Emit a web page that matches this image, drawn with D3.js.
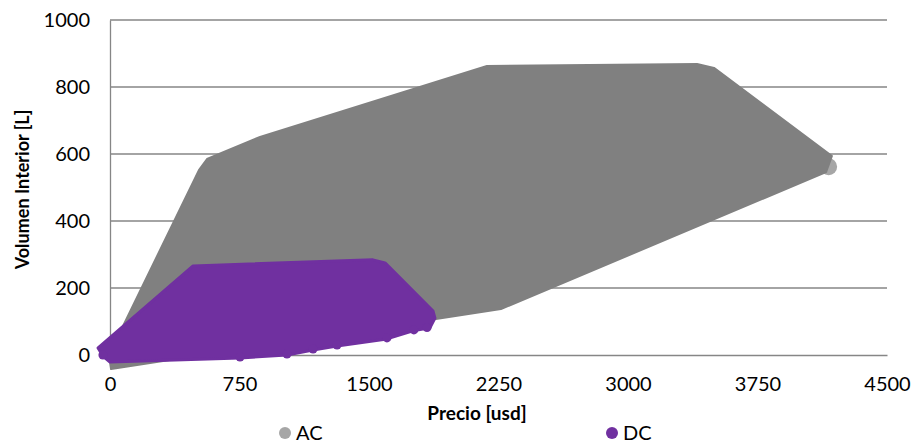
<!DOCTYPE html>
<html>
<head>
<meta charset="utf-8">
<script src="https://cdn.jsdelivr.net/npm/d3@7"></script>
<style>
  html, body { margin: 0; padding: 0; background: #fff; }
  svg text { font-family: Lato, "Open Sans", "Liberation Sans", sans-serif; }
</style>
</head>
<body>
<svg id="chart" width="915" height="446"></svg>
<script>
// Outline of the AC region (precio, volumen)
const acPrice  = [6, 2264, 4147, 4181, 3498, 3400, 2183, 869, 562, 515, -6];
const acVolume = [-42, 137, 546, 594, 857, 869, 863, 651, 585, 552, 0];
// AC marker
const acMarkPrice  = [4162];
const acMarkVolume = [562];

// Outline of the DC region
const dcPrice  = [-69, 481, 1523, 1593, 1871, 1882, 1853, 1755, 1604, 1315, 1176, 1025, 753, 0, -41];
const dcVolume = [21, 266, 284, 275, 131, 110, 81, 72, 48, 27, 15, 0, -9, -21, -3];
// DC markers along the lower edge
const dcMarkPrice  = [-41, 753, 1025, 1176, 1315, 1604, 1760, 1836];
const dcMarkVolume = [0, -6, 3, 18, 30, 51, 75, 82];

const xTicks = [0, 750, 1500, 2250, 3000, 3750, 4500];
const yTicks = [0, 200, 400, 600, 800, 1000];
const seriesNames = ["AC", "DC"];

const colors = { AC: "#808080", ACmark: "#a6a6a6", DC: "#7030a0" };

const svg = d3.select("#chart");
const plotLeft = 110, plotRight = 887, plotTop = 20, plotBottom = 355;

const x = d3.scaleLinear().domain([0, 4500]).range([plotLeft, plotRight]);
const y = d3.scaleLinear().domain([0, 1000]).range([plotBottom, plotTop]);

// Horizontal gridlines
svg.append("g")
  .selectAll("line")
  .data(yTicks.filter(d => d > 0))
  .join("line")
  .attr("x1", plotLeft).attr("x2", plotRight)
  .attr("y1", d => y(d)).attr("y2", d => y(d))
  .attr("stroke", "#868686").attr("stroke-width", 1.3);

// Y axis
const yAxis = d3.axisLeft(y).tickValues(yTicks).tickFormat(d3.format("d")).tickSize(0).tickPadding(20);
const gy = svg.append("g").attr("transform", `translate(${plotLeft},0)`).call(yAxis);
gy.select(".domain").attr("stroke", "#868686").attr("stroke-width", 1.3);
gy.selectAll("text").attr("font-size", 20).attr("fill", "#000");

const line = d3.line().x(d => x(d[0])).y(d => y(d[1]));

// AC marker (behind its region)
svg.append("g").selectAll("circle")
  .data(d3.zip(acMarkPrice, acMarkVolume))
  .join("circle")
  .attr("cx", d => x(d[0])).attr("cy", d => y(d[1]))
  .attr("r", 8.5).attr("fill", colors.ACmark);

// AC region
svg.append("path")
  .attr("d", line(d3.zip(acPrice, acVolume)) + "Z")
  .attr("fill", colors.AC)
  .attr("stroke", colors.AC).attr("stroke-width", 2).attr("stroke-linejoin", "round");

// X axis line
const xAxis = d3.axisBottom(x).tickValues(xTicks).tickFormat(d3.format("d")).tickSize(0).tickPadding(22);
const gx = svg.append("g").attr("transform", `translate(0,${plotBottom})`).call(xAxis);
gx.select(".domain").attr("stroke", "#868686").attr("stroke-width", 1.3);
gx.selectAll("text").attr("font-size", 20).attr("fill", "#000");

// DC region and markers
svg.append("path")
  .attr("d", line(d3.zip(dcPrice, dcVolume)) + "Z")
  .attr("fill", colors.DC)
  .attr("stroke", colors.DC).attr("stroke-width", 3).attr("stroke-linejoin", "round");
svg.append("g").selectAll("circle")
  .data(d3.zip(dcMarkPrice, dcMarkVolume))
  .join("circle")
  .attr("cx", d => x(d[0])).attr("cy", d => y(d[1]))
  .attr("r", 4.5).attr("fill", colors.DC);

// Axis titles
svg.append("text")
  .attr("transform", `translate(29,${(plotTop + plotBottom) / 2 + 2}) rotate(-90)`)
  .attr("text-anchor", "middle")
  .attr("font-size", 18).attr("font-weight", "bold")
  .text("Volumen Interior [L]");

svg.append("text")
  .attr("x", 477).attr("y", 420)
  .attr("text-anchor", "middle")
  .attr("font-size", 19).attr("font-weight", "bold")
  .text("Precio [usd]");

// Legend
const legendX = [285, 612];
const legend = svg.append("g").selectAll("g")
  .data(seriesNames)
  .join("g")
  .attr("transform", (d, i) => `translate(${legendX[i]},433)`);
legend.append("circle").attr("r", 6)
  .attr("fill", d => d === "AC" ? colors.ACmark : colors.DC);
legend.append("text").attr("x", 11).attr("y", 7)
  .attr("font-size", 20).text(d => d);
</script>
</body>
</html>
